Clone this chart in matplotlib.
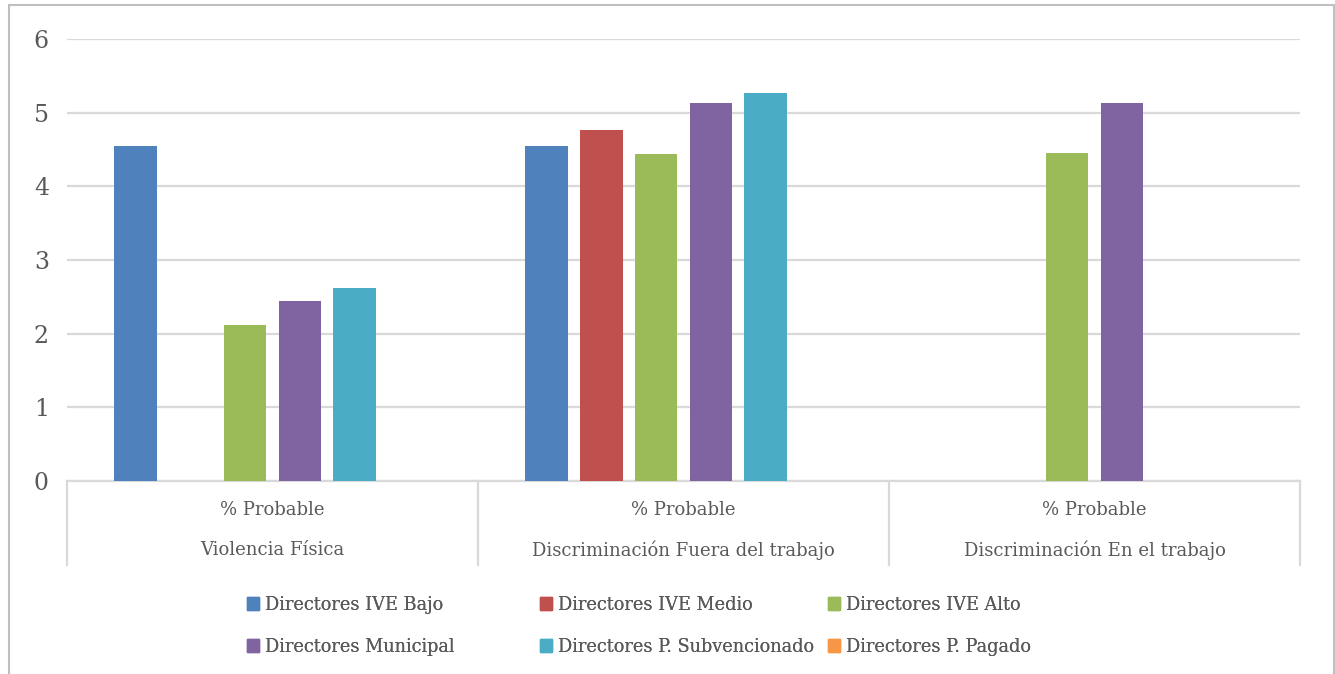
import matplotlib
matplotlib.use('Agg')
import matplotlib.pyplot as plt
import numpy as np
from matplotlib.patches import Rectangle, Patch

# data
categories = ['Violencia Física', 'Discriminación Fuera del trabajo', 'Discriminación En el trabajo']
sub_label = '% Probable'
series = ['Directores IVE Bajo', 'Directores IVE Medio', 'Directores IVE Alto',
          'Directores Municipal', 'Directores P. Subvencionado', 'Directores P. Pagado']
ive_bajo = [4.55, 4.55, 0]
ive_medio = [0, 4.76, 0]
ive_alto = [2.12, 4.44, 4.45]
municipal = [2.44, 5.13, 5.13]
subvencionado = [2.62, 5.27, 0]
pagado = [0, 0, 0]
colors = ['#4F81BD', '#C0504D', '#9BBB59', '#8064A2', '#4BACC6', '#F79646']

values = [ive_bajo, ive_medio, ive_alto, municipal, subvencionado, pagado]
text_col = '#595959'
grid_col = '#D9D9D9'

plt.rcParams['font.family'] = ['DejaVu Serif']

W, H = 1335, 674
fig = plt.figure(figsize=(W / 100, H / 100), dpi=100)
ax = fig.add_axes([67 / W, 1 - 481 / H, (1300 - 67) / W, (481 - 39) / H])

x = np.arange(len(categories))
pitch = 0.1338
bw = 0.1046
for i, (name, vals) in enumerate(zip(series, values)):
    ax.bar(x + (i - 2.5) * pitch, vals, width=bw, color=colors[i], label=name, zorder=3)

ax.set_xlim(-0.5, len(categories) - 0.5)
ax.set_ylim(0, 6)
ax.set_yticks(range(0, 7))
ax.yaxis.grid(True, color=grid_col, linewidth=1.6, zorder=0)
ax.tick_params(axis='y', length=0, labelsize=17, labelcolor=text_col, pad=13)
ax.set_xticks([])
for s in ['top', 'right', 'left']:
    ax.spines[s].set_visible(False)
ax.spines['bottom'].set_color(grid_col)
ax.spines['bottom'].set_linewidth(1.6)

# two-level category axis
for b in np.arange(len(categories) + 1) - 0.5:
    ax.plot([b, b], [0, -0.19], transform=ax.get_xaxis_transform(), color=grid_col,
            linewidth=1.6, clip_on=False)
for xi, cat in zip(x, categories):
    ax.text(xi, -0.066, sub_label, transform=ax.get_xaxis_transform(), ha='center',
            va='center', fontsize=13, color=text_col)
    ax.text(xi, -0.157, cat, transform=ax.get_xaxis_transform(), ha='center',
            va='center', fontsize=13, color=text_col)

# legend: three columns placed like the original
col_x = [238, 531, 819]
for c in range(3):
    hs = [Patch(color=colors[c]), Patch(color=colors[c + 3])]
    leg = fig.legend(hs, [series[c], series[c + 3]], loc='upper left',
                     bbox_to_anchor=(col_x[c] / W, 1 - 587 / H), frameon=False,
                     fontsize=12.8, handlelength=0.7, handleheight=0.7,
                     handletextpad=0.3, labelspacing=1.34, borderpad=0)
    for t in leg.get_texts():
        t.set_color(text_col)
    fig.add_artist(leg)

# outer chart border
fig.patches.append(Rectangle((9 / W, -0.02), (1334 - 9) / W, 1.02 - 5 / H,
                             transform=fig.transFigure, fill=False,
                             edgecolor='#BFBFBF', linewidth=1.5))

fig.savefig('out.png', dpi=100)
